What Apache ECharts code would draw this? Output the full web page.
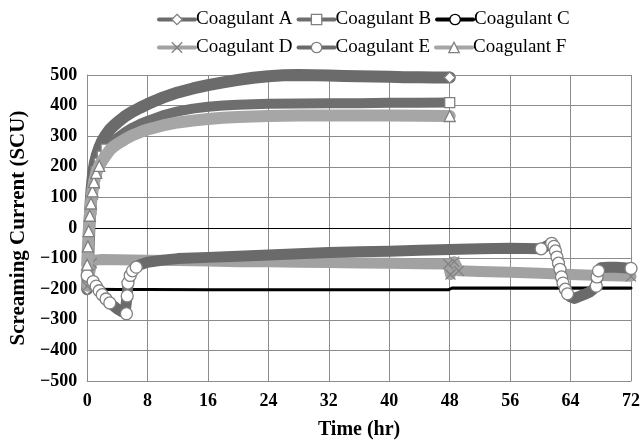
<!DOCTYPE html>
<html>
<head>
<meta charset="utf-8">
<script src="https://cdn.jsdelivr.net/npm/echarts@6/dist/echarts.min.js"></script>
<style>html,body{margin:0;padding:0;background:#fff}#c{width:643px;height:445px}</style>
</head>
<body>
<div id="c"></div>
<script>
const names = ['Coagulant A','Coagulant B','Coagulant C','Coagulant D','Coagulant E','Coagulant F'];
const xTicks = [0,8,16,24,32,40,48,56,64,72];
const yTicks = [-500,-400,-300,-200,-100,0,100,200,300,400,500];

const tA = [0,0.1,0.2,0.3,0.45,0.6,0.8,1.0,1.3,1.6,2.0,2.5,3,3.5,4,5,6,7,8,9,10,12,14,16,18,20,22,24,26,28,30,32,34,36,38,40,42,44,46,48];
const vA = [-200,-140,-60,10,80,130,180,210,240,262,285,305,322,334,345,365,380,393,405,416,426,443,456,467,476,484,491,496,499,500,499,498,497,496,495,494,493,493,492,492];

const tB = [0,0.15,0.3,0.5,0.7,0.9,1.2,1.6,2.0,2.5,3,3.5,4,5,6,7,8,10,12,14,16,18,20,24,28,32,36,40,44,48];
const vB = [-150,-80,-10,60,110,145,185,212,235,258,272,285,295,313,328,340,350,368,381,390,396,400,403,406,407,408,408,409,409,410];

const tC = [1.4,4,8,16,24,32,40,47.8,48.3,56,64,72];
const vC = [-200,-201,-201,-202,-202,-202,-202,-202,-196,-196,-196,-196];

const tD = [0,0.3,0.6,1,2,4,8,12,16,20,24,28,32,36,40,44,47.8,48.1,48.6,49.2,52,56,60,64,68,72];
const vD = [-190,-150,-115,-105,-103,-104,-105,-106,-108,-110,-110,-112,-113,-114,-115,-117,-118,-152,-110,-140,-142,-145,-148,-152,-155,-158];

const tE = [0,0.4,0.8,1.2,1.6,2.0,2.5,3.0,3.5,4.0,4.5,5.0,5.2,5.3,5.4,5.7,6.0,6.5,7,8,10,12,16,20,24,28,32,36,40,44,48,52,56,60.1,61.5,61.8,62,62.2,62.4,62.6,62.8,63.0,63.3,63.6,64,64.5,65,65.5,66,66.5,67,67.4,67.5,67.7,68,69,70,71,72];
const vE = [-155,-165,-175,-190,-205,-218,-232,-245,-255,-265,-272,-278,-280,-222,-180,-155,-140,-128,-120,-112,-105,-100,-96,-92,-88,-84,-80,-78,-76,-73,-70,-68,-66,-68,-50,-60,-75,-95,-115,-135,-160,-180,-200,-215,-225,-230,-225,-220,-215,-210,-200,-190,-160,-140,-130,-128,-128,-130,-132];

const tF = [0,0.1,0.2,0.35,0.5,0.7,0.9,1.2,1.6,2.0,2.5,3,3.5,4,5,6,7,8,10,12,14,16,18,20,24,28,32,36,40,44,48];
const vF = [-120,-60,-10,40,80,120,150,180,203,220,238,255,266,275,290,303,313,322,335,345,351,356,360,363,366,368,368,368,368,367,366];

const FONT = '"Liberation Serif","DejaVu Serif",serif';

function build(ts, vs, thr) {
  return ts.map((t, i) => {
    const steep = i === 0 || Math.abs(vs[i] - vs[i-1]) > thr || (i < ts.length-1 && Math.abs(vs[i+1]-vs[i]) > thr);
    const last = i === ts.length - 1;
    return (steep || last) ? {value:[t, vs[i]]} : {value:[t, vs[i]], symbol:'none'};
  });
}

const defs = [
  {name:names[0], t:tA, v:vA, color:'#6b6b6b', symbol:'diamond', size:11, thr:1e9, w:12},
  {name:names[1], t:tB, v:vB, color:'#6e6e6e', symbol:'rect', size:10, thr:22, w:10},
  {name:names[2], t:tC, v:vC, color:'#000', symbol:'none', size:0, thr:0, w:3},
  {name:names[3], t:tD, v:vD, color:'#a2a2a2', symbol:'path://M0,0L10,10M10,0L0,10', size:10, thr:25, w:11},
  {name:names[4], t:tE, v:vE, color:'#6a6a6a', symbol:'circle', size:12, thr:10, w:11},
  {name:names[5], t:tF, v:vF, color:'#a6a6a6', symbol:'triangle', size:11, thr:22, w:12}
];

const series = defs.map((d, k) => ({
  name: d.name,
  type: 'line',
  data: d.symbol === 'none' ? d.t.map((t,i)=>[t,d.v[i]]) : build(d.t, d.v, d.thr),
  symbol: d.symbol,
  symbolSize: d.size,
  showSymbol: d.symbol !== 'none',
  showAllSymbol: true,
  lineStyle: {color: d.color, width: d.w, cap:'round', join:'round'},
  itemStyle: {color: '#fff', borderColor: d.color === '#000' ? '#000' : '#808080', borderWidth: 1.3},
  emphasis: {disabled: true},
  z: 2 + k,
  markLine: k === 0 ? {silent:true, symbol:'none', label:{show:false}, lineStyle:{color:'#000', width:1.2, type:'solid'}, data:[{yAxis:0}], z:1} : undefined
}));

const legendBase = {
  itemWidth: 36, itemHeight: 13, itemGap: 4,
  textStyle: {fontFamily: FONT, fontSize: 19, color: '#000', padding:[0,0,0,-4]},
  lineStyle: {width: 4},
  itemStyle: {borderWidth: 1.3},
  selectedMode: false
};

const option = {
  animation: false,
  backgroundColor: '#fff',
  grid: {left: 86, right: 10, top: 75, bottom: 58},
  legend: [
    Object.assign({}, legendBase, {data: names.slice(0,3), left: 152, top: 5}),
    Object.assign({}, legendBase, {data: names.slice(3), left: 152, top: 33})
  ],
  xAxis: {
    type: 'value', min: 0, max: 72, interval: 8,
    name: 'Time (hr)', nameLocation: 'middle', nameGap: 39,
    nameTextStyle: {fontFamily: FONT, fontSize: 20, fontWeight: 'bold', color:'#000'},
    axisLine: {onZero: false, lineStyle: {color: '#8c8c8c'}},
    axisTick: {show: false},
    axisLabel: {fontFamily: FONT, fontSize: 18, fontWeight: 'bold', color: '#000', margin: 11,
      formatter: v => xTicks.includes(v) ? String(v) : ''},
    splitLine: {show: true, lineStyle: {color: '#8c8c8c', width: 1}}
  },
  yAxis: {
    type: 'value', min: -500, max: 500, interval: 100,
    name: 'Screaming Current (SCU)', nameLocation: 'middle', nameGap: 58,
    nameTextStyle: {fontFamily: FONT, fontSize: 21, fontWeight: 'bold', color:'#000'},
    axisLine: {show: true, lineStyle: {color: '#8c8c8c'}},
    axisTick: {show: false},
    axisLabel: {fontFamily: FONT, fontSize: 18, fontWeight: 'bold', color: '#000', margin: 10,
      formatter: v => yTicks.includes(v) ? (v < 0 ? '\u2212' + Math.abs(v) : String(v)) : ''},
    splitLine: {show: true, lineStyle: {color: '#8c8c8c', width: 1}}
  },
  series: series
};

const chart = echarts.init(document.getElementById('c'), null, {renderer: 'canvas'});
chart.setOption(option);
</script>
</body>
</html>
